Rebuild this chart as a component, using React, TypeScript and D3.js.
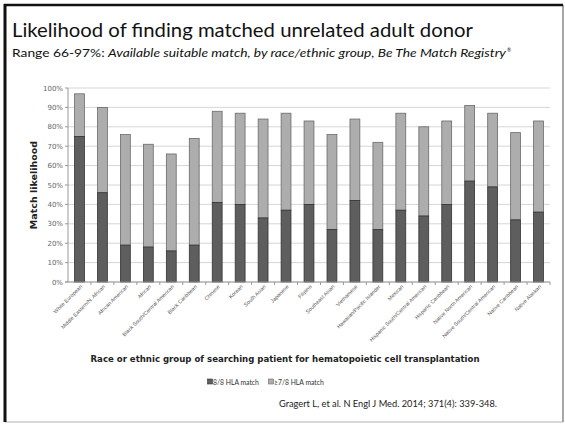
import React from "react";
import * as d3 from "d3";

const categories = [
  "White European",
  "Middle Eastern/N. African",
  "African American",
  "African",
  "Black South/Central American",
  "Black Caribbean",
  "Chinese",
  "Korean",
  "South Asian",
  "Japanese",
  "Filipino",
  "Southeast Asian",
  "Vietnamese",
  "Hawaiian/Pacific Islander",
  "Mexican",
  "Hispanic South/Central American",
  "Hispanic Caribbean",
  "Native North American",
  "Native South/Central American",
  "Native Caribbean",
  "Native Alaskan",
];

// 8/8 HLA match likelihood (%)
const match8of8 = [75, 46, 19, 18, 16, 19, 41, 40, 33, 37, 40, 27, 42, 27, 37, 34, 40, 52, 49, 32, 36];
// >=7/8 HLA match likelihood (%), cumulative top of each bar
const match7of8 = [97, 90, 76, 71, 66, 74, 88, 87, 84, 87, 83, 76, 84, 72, 87, 80, 83, 91, 87, 77, 83];

const yTicks = [0, 10, 20, 30, 40, 50, 60, 70, 80, 90, 100];

const W = 565;
const H = 424;
const plot = { left: 68, right: 550, top: 88, bottom: 282 };

const DARK = "#5e5e5e";
const LIGHT = "#adadad";

export default function App() {
  const x = d3
    .scaleBand<string>()
    .domain(categories)
    .range([plot.left, plot.right])
    .paddingInner(0.57)
    .paddingOuter(0.285);
  const y = d3.scaleLinear().domain([0, 100]).range([plot.bottom, plot.top]);
  const step = x.step();
  const chartFont = "'DejaVu Sans', Verdana, sans-serif";
  const slideFont = "Lato, 'Open Sans', sans-serif";

  return (
    <svg
      width={W}
      height={H}
      viewBox={`0 0 ${W} ${H}`}
      style={{ position: "absolute", left: 0, top: 0, background: "#fff" }}
    >
      {/* slide frame */}
      <rect x={0} y={0} width={W} height={H} fill="#fff" />
      <line x1={5} y1={422} x2={563} y2={422} stroke="#d8d8d8" strokeWidth={2} />
      <line x1={563} y1={5} x2={563} y2={422} stroke="#8a8a8a" strokeWidth={1.5} />
      <line x1={4} y1={5} x2={563} y2={5} stroke="#111" strokeWidth={2.5} />
      <line x1={5} y1={4} x2={5} y2={422} stroke="#111" strokeWidth={3} />

      {/* title */}
      <text
        x={12}
        y={37}
        fontFamily={slideFont}
        fontSize={19}
        fill="#111"
        textLength={461}
        lengthAdjust="spacingAndGlyphs"
      >
        Likelihood of finding matched unrelated adult donor
      </text>
      <text x={12} y={57} fontFamily={slideFont} fontSize={10.5} fill="#111" textLength={494} lengthAdjust="spacingAndGlyphs">
        Range 66-97%: <tspan fontStyle="italic">Available suitable match, by race/ethnic group, Be The Match Registry</tspan>
      </text>
      <text x={507} y={52} fontFamily={slideFont} fontSize={5} fill="#111">®</text>

      {/* gridlines */}
      {yTicks.map((t) => (
        <line
          key={"g" + t}
          x1={plot.left}
          x2={plot.right}
          y1={y(t)}
          y2={y(t)}
          stroke="#d6d6d6"
          strokeWidth={1}
        />
      ))}

      {/* y tick labels */}
      {yTicks.map((t) => (
        <text
          key={"yt" + t}
          x={plot.left - 5}
          y={y(t) + 2.5}
          textAnchor="end"
          fontFamily={chartFont}
          fontSize={7}
          fill="#666"
        >
          {t}%
        </text>
      ))}

      {/* bars */}
      {categories.map((c, i) => {
        const bx = x(c)!;
        const bw = x.bandwidth();
        return (
          <g key={c}>
            <rect
              x={bx}
              y={y(match7of8[i])}
              width={bw}
              height={y(match8of8[i]) - y(match7of8[i])}
              fill={LIGHT}
              stroke="#6a6a6a"
              strokeWidth={0.8}
            />
            <rect
              x={bx}
              y={y(match8of8[i])}
              width={bw}
              height={y(0) - y(match8of8[i])}
              fill={DARK}
              stroke="#333"
              strokeWidth={0.8}
            />
          </g>
        );
      })}

      {/* axes */}
      <line x1={plot.left} x2={plot.left} y1={plot.top} y2={plot.bottom} stroke="#999" strokeWidth={1} />
      <line x1={plot.left - 3} x2={plot.right} y1={plot.bottom} y2={plot.bottom} stroke="#999" strokeWidth={1} />
      {yTicks.map((t) => (
        <line key={"yk" + t} x1={plot.left - 3} x2={plot.left} y1={y(t)} y2={y(t)} stroke="#999" />
      ))}
      {categories.map((c, i) => {
        const tx = plot.left + step * (i + 1);
        return <line key={"xk" + c} x1={tx} x2={tx} y1={plot.bottom} y2={plot.bottom + 3} stroke="#999" />;
      })}

      {/* category labels */}
      {categories.map((c) => {
        const cx = x(c)! + x.bandwidth() / 2 + 3;
        const cy = plot.bottom + 5;
        return (
          <text
            key={"xl" + c}
            x={cx}
            y={cy}
            textAnchor="end"
            transform={`rotate(-45 ${cx} ${cy})`}
            fontFamily="'Liberation Sans', Arial, sans-serif"
            fontSize={5.3}
            fill="#555"
          >
            {c}
          </text>
        );
      })}

      {/* axis titles */}
      <text
        transform={`translate(37 ${(plot.top + plot.bottom) / 2}) rotate(-90)`}
        textAnchor="middle"
        fontFamily={chartFont}
        fontWeight="bold"
        fontSize={9.5}
        fill="#222"
      >
        Match likelihood
      </text>
      <text
        x={285}
        y={362}
        textAnchor="middle"
        fontFamily={chartFont}
        fontWeight="bold"
        fontSize={8.5}
        fill="#222"
        textLength={389}
        lengthAdjust="spacingAndGlyphs"
      >
        Race or ethnic group of searching patient for hematopoietic cell transplantation
      </text>

      {/* legend */}
      <rect x={207.5} y={379} width={5} height={5} fill={DARK} stroke="#333" strokeWidth={0.6} />
      <text x={213} y={384.5} fontFamily={slideFont} fontSize={6.8} fill="#333">
        8/8 HLA match
      </text>
      <rect x={268.5} y={379} width={5} height={5} fill={LIGHT} stroke="#6a6a6a" strokeWidth={0.6} />
      <text x={274} y={384.5} fontFamily={slideFont} fontSize={6.8} fill="#333">
        ≥7/8 HLA match
      </text>

      {/* citation */}
      <text
        x={279}
        y={407}
        fontFamily={slideFont}
        fontSize={10}
        fill="#222"
        textLength={218}
        lengthAdjust="spacingAndGlyphs"
      >
        Gragert L, et al. N Engl J Med. 2014; 371(4): 339-348.
      </text>
    </svg>
  );
}
